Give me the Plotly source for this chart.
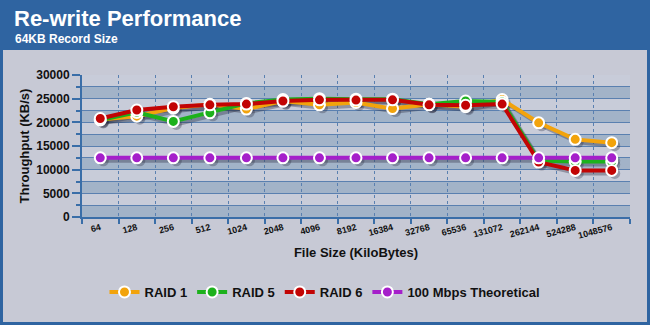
import plotly.graph_objects as go

file_sizes = ["64", "128", "256", "512", "1024", "2048", "4096", "8192", "16384",
              "32768", "65536", "131072", "262144", "524288", "1048576"]
raid1 = [20600, 21300, 23000, 23800, 22800, 24500, 23700, 24200, 22900, 23800, 23300, 24800, 19900, 16400, 15700]
raid5 = [20500, 22100, 20200, 22000, 24000, 24800, 25000, 24900, 24900, 23800, 24500, 24300, 11950, 11700, 11700]
raid6 = [20800, 22600, 23300, 23700, 23850, 24500, 24750, 24700, 24750, 23700, 23600, 23850, 11600, 9850, 9850]
theoretical = [12500] * 15

series = [
    ("RAID 1", raid1, "#f2a30c"),
    ("RAID 5", raid5, "#1cb11c"),
    ("RAID 6", raid6, "#c20404"),
    ("100 Mbps Theoretical", theoretical, "#a51fca"),
]

Y_MAX = 30000
W, H = 650, 325
L, R, T, B = 82, 20, 75, 108
PW, PH = W - L - R, H - T - B


def fx(px):
    return (px - L) / PW


def fy(py):
    return (H - B - py) / PH


FONT = "Liberation Sans, Arial, sans-serif"
BLUE = "#3a6ea8"
GRID = "#5a80b0"

fig = go.Figure()

# shadows (drawn on base axes, offset a few pixels down/right)
for name, vals, col in series:
    fig.add_trace(go.Scatter(
        x=file_sizes, y=vals, mode="lines+markers", xaxis="x", yaxis="y",
        line=dict(color="rgba(40,40,60,0.35)", width=4),
        marker=dict(size=11, color="rgba(40,40,60,0.30)"),
        showlegend=False, hoverinfo="skip"))

for name, vals, col in series:
    fig.add_trace(go.Scatter(
        x=file_sizes, y=vals, mode="lines+markers", name=name, xaxis="x2", yaxis="y2",
        line=dict(color=col, width=4),
        marker=dict(size=11, color=col, line=dict(color="white", width=2))))

dx = 3 / (PW / 15)
dy = 3 * Y_MAX / PH

shapes = [
    # grey panel
    dict(type="rect", xref="paper", yref="paper", x0=fx(3), x1=fx(647), y0=fy(322), y1=fy(50),
         fillcolor="#c7c9d5", line=dict(width=0), layer="below"),
    # light plot background
    dict(type="rect", xref="paper", yref="paper", x0=0, x1=1, y0=0, y1=1,
         fillcolor="#c8ccd9", line=dict(width=0), layer="below"),
]
# alternating darker bands (every other 2500 interval)
for k in range(6):
    lo = k * 5000
    shapes.append(dict(type="rect", xref="paper", yref="paper", x0=0, x1=1,
                       y0=lo / Y_MAX, y1=(lo + 2500) / Y_MAX,
                       fillcolor="#a2b3c8", line=dict(width=0), layer="below"))

fig.update_layout(
    width=W, height=H,
    margin=dict(l=L, r=R, t=T, b=B),
    paper_bgcolor="#2f64a1",
    plot_bgcolor="rgba(0,0,0,0)",
    font=dict(family=FONT, color="#111111"),
    shapes=shapes,
    xaxis=dict(type="category", range=[-0.5 - dx, 14.5 - dx], visible=False, fixedrange=True),
    yaxis=dict(range=[0 + dy, Y_MAX + dy], visible=False, fixedrange=True),
    xaxis2=dict(type="category", overlaying="x", anchor="y2", range=[-0.5, 14.5],
                tickson="boundaries", ticks="outside", ticklen=5, tickwidth=2, tickcolor=BLUE,
                showgrid=True, gridcolor=GRID, griddash="dot", gridwidth=1,
                showline=True, linecolor=BLUE, linewidth=2, mirror=False,
                tickangle=-15, tickfont=dict(size=9, weight="bold", family=FONT),
                title=dict(text="File Size (KiloBytes)", font=dict(size=13, weight="bold", family=FONT),
                           standoff=8)),
    yaxis2=dict(overlaying="y", anchor="x2", range=[0, Y_MAX], dtick=5000, tick0=0,
                tickformat="d",
                ticks="outside", ticklen=8, tickwidth=2, tickcolor=BLUE,
                showgrid=True, gridcolor=GRID, gridwidth=1,
                showline=True, linecolor=BLUE, linewidth=2, zeroline=False,
                minor=dict(dtick=2500, ticks="outside", ticklen=4, tickwidth=2, tickcolor=BLUE,
                           showgrid=True, gridcolor=GRID, gridwidth=1),
                tickfont=dict(size=12, weight="bold", family=FONT),
                title=dict(text="Throughput (KB/s)", font=dict(size=13, weight="bold", family=FONT),
                           standoff=4)),
    legend=dict(orientation="h", x=fx(325), xanchor="center", y=fy(292), yanchor="middle",
                font=dict(size=13, weight="bold", family=FONT), bgcolor="rgba(0,0,0,0)",
                itemwidth=30, tracegroupgap=0),
    annotations=[
        dict(text="Re-write Performance", xref="paper", yref="paper", x=fx(12), y=fy(18),
             xanchor="left", yanchor="middle", showarrow=False,
             font=dict(size=22, color="white", weight="bold", family=FONT)),
        dict(text="64KB Record Size", xref="paper", yref="paper", x=fx(13), y=fy(39),
             xanchor="left", yanchor="middle", showarrow=False,
             font=dict(size=12, color="white", weight="bold", family=FONT)),
    ],
)

fig.write_html("out.html")
